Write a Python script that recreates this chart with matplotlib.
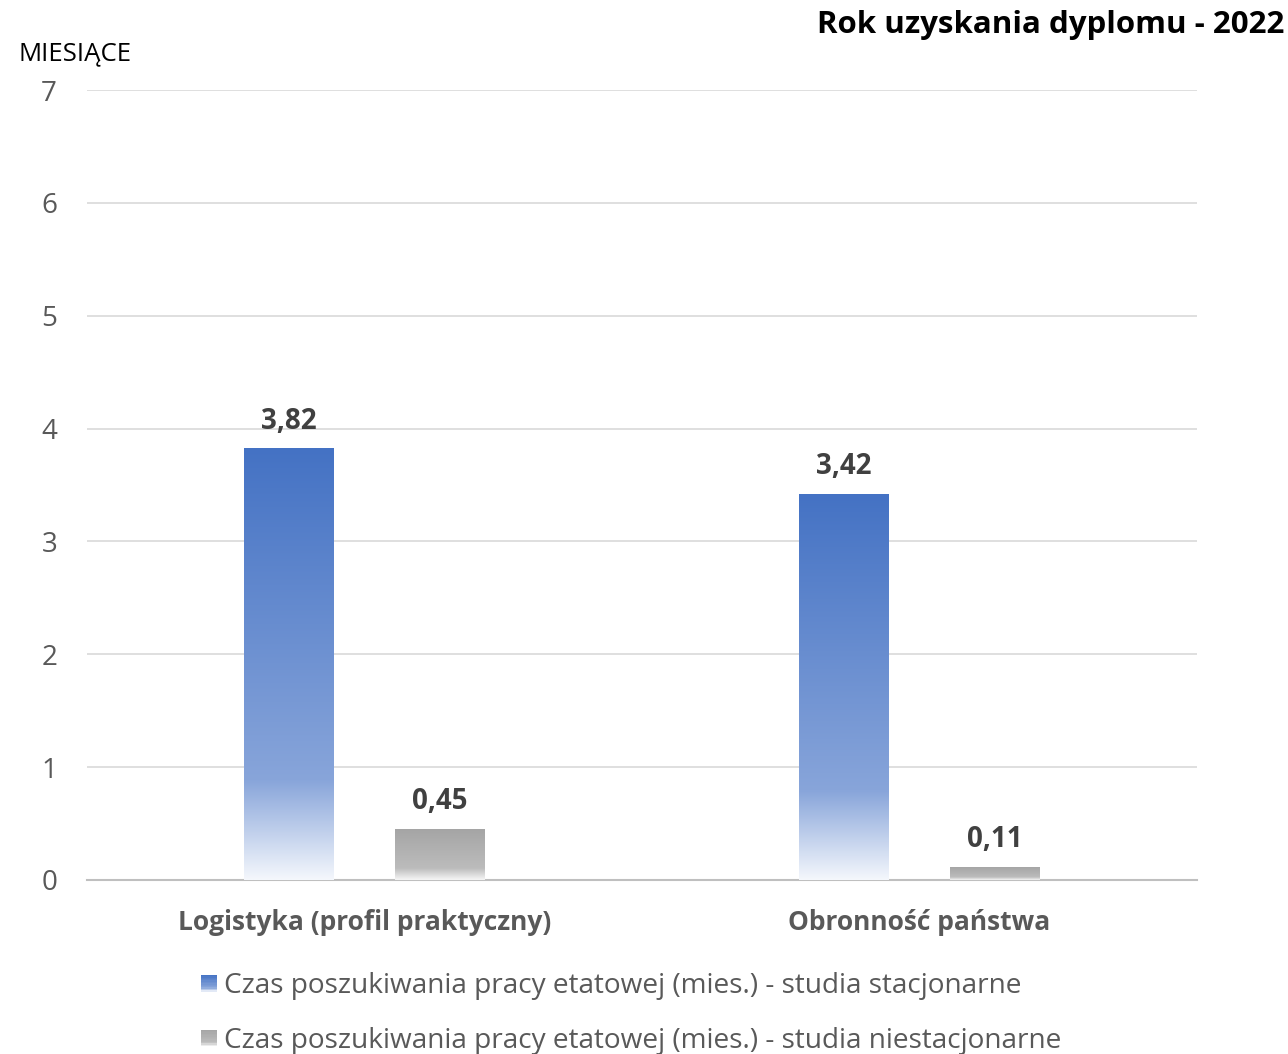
import numpy as np
import matplotlib
matplotlib.use("Agg")
import matplotlib.pyplot as plt
from matplotlib.colors import LinearSegmentedColormap
from matplotlib.patches import Rectangle
from matplotlib.legend_handler import HandlerBase

plt.rcParams['font.family'] = ['Open Sans', 'DejaVu Sans']

categories = ["Logistyka (profil praktyczny)", "Obronność państwa"]
stacjonarne = [3.82, 3.42]
niestacjonarne = [0.45, 0.11]
value_labels_st = ["3,82", "3,42"]
value_labels_nst = ["0,45", "0,11"]
series_names = ["Czas poszukiwania pracy etatowej (mies.) - studia stacjonarne",
                "Czas poszukiwania pracy etatowej (mies.) - studia niestacjonarne"]
yticks = [0, 1, 2, 3, 4, 5, 6, 7]
title = "Rok uzyskania dyplomu - 2022"
ylabel = "MIESIĄCE"

blue_cmap = LinearSegmentedColormap.from_list(
    "bl", [(0.0, "#f4f7fc"), (0.23, "#88a5da"), (1.0, "#4472c4")])
gray_cmap = LinearSegmentedColormap.from_list(
    "gr", [(0.0, "#f6f6f6"), (0.23, "#bcbcbc"), (1.0, "#a5a5a5")])

fig = plt.figure(figsize=(12.88, 10.54), dpi=100)
ax = fig.add_axes([0.0675, 0.1651, 0.9294 - 0.0675, 0.9146 - 0.1651])

x = np.arange(len(categories))
w = 0.162
off = 0.136
grad = np.linspace(0, 1, 256).reshape(-1, 1)

def gradient_bars(xs, vals, cmap):
    bars = ax.bar(xs, vals, width=w, color="none", edgecolor="none", zorder=3)
    for b in bars:
        x0, y0 = b.get_x(), b.get_y()
        bw, bh = b.get_width(), b.get_height()
        ax.imshow(grad, cmap=cmap, origin="lower", aspect="auto",
                  extent=(x0, x0 + bw, y0, y0 + bh), zorder=3, interpolation="bilinear")
    return bars

b1 = gradient_bars(x - off, stacjonarne, blue_cmap)
b2 = gradient_bars(x + off, niestacjonarne, gray_cmap)

for bars, labels in ((b1, value_labels_st), (b2, value_labels_nst)):
    for b, lab in zip(bars, labels):
        ax.annotate(lab, (b.get_x() + b.get_width() / 2, b.get_height()),
                    xytext=(0, 9.5), textcoords="offset points", ha="center", va="bottom",
                    fontsize=20, fontweight="bold", color="#404040")

ax.set_xlim(-0.5, 1.5)
ax.set_ylim(0, 7)
ax.set_yticks(yticks)
ax.set_yticklabels([str(t) for t in yticks])
ax.set_xticks(x)
ax.set_xticklabels(categories, fontsize=19, fontweight="bold", color="#595959")
ax.tick_params(axis="y", length=0, pad=21.5, labelsize=20, labelcolor="#595959")
ax.tick_params(axis="x", length=0, pad=21)
ax.grid(axis="y", color="#d9d9d9", linewidth=1.2, zorder=0)
ax.set_axisbelow(True)
for s in ["left", "right", "top"]:
    ax.spines[s].set_visible(False)
ax.spines["bottom"].set_color("#bfbfbf")
ax.spines["bottom"].set_linewidth(1.5)

fig.text(0.014, 0.949, ylabel, fontsize=18.5, color="#000000", ha="left", va="center")
fig.text(0.997, 0.976, title, fontsize=22.5, fontweight="bold", ha="right", va="center")


class GradHandler(HandlerBase):
    def __init__(self, cmap):
        super().__init__()
        self.cmap = cmap

    def create_artists(self, legend, orig_handle, xdescent, ydescent, width, height, fontsize, trans):
        arts = []
        n = 12
        size = height * 0.85
        x0 = -xdescent + width - size
        y0 = -ydescent + (height - size) / 2
        for i in range(n):
            c = self.cmap((i + 0.5) / n)
            r = Rectangle((x0, y0 + size * i / n), size, size / n + 0.05,
                          facecolor=c, edgecolor="none", transform=trans)
            arts.append(r)
        return arts


h1 = Rectangle((0, 0), 1, 1)
h2 = Rectangle((0, 0), 1, 1)
leg = fig.legend([h1, h2], series_names, loc="center left",
                 bbox_to_anchor=(0.1535, 0.0385), frameon=False, fontsize=20.2,
                 labelcolor="#595959", handlelength=0.7, handletextpad=0.25,
                 labelspacing=0.95, borderpad=0, borderaxespad=0,
                 handler_map={h1: GradHandler(blue_cmap), h2: GradHandler(gray_cmap)})

fig.savefig("out.png", dpi=100)
